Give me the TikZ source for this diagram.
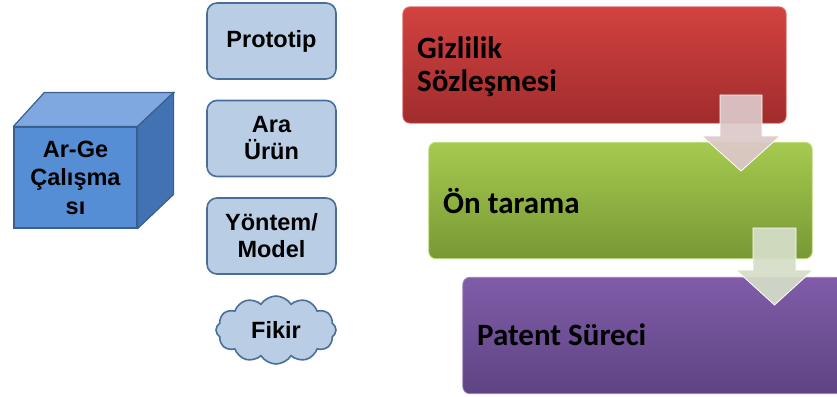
\documentclass[tikz,border=0pt]{standalone}
\usepackage{fontspec}
\setmainfont{Liberation Sans}
\newfontfamily\calib{Carlito}
\usetikzlibrary{shapes.symbols,calc}
\definecolor{cubefront}{HTML}{558ED5}
\definecolor{cubetop}{HTML}{7EA8DF}
\definecolor{cubeside}{HTML}{4272B2}
\definecolor{cubeline}{HTML}{3A5F8F}
\definecolor{boxfill}{HTML}{B9CDE5}
\definecolor{boxline}{HTML}{4A6E9A}
\definecolor{arrowa}{HTML}{DDC8C9}
\definecolor{arrowb}{HTML}{D5DEC8}
\tikzset{
  smallbox/.style={draw=boxline, line width=1.6pt, fill=boxfill, rounded corners=10pt,
    minimum width=129pt, minimum height=76pt, inner sep=0pt, align=center,
    font=\bfseries\fontsize{23.5}{27}\selectfont},
  bigbox/.style={minimum width=383pt, minimum height=116pt, inner sep=0pt},
  bigtext/.style={anchor=west, align=left, inner sep=0pt, font=\calib\bfseries\fontsize{31}{33}\selectfont},
  blockarrow/.style={draw=white, line width=0.8pt, line join=miter, fill opacity=0.93}
}
\begin{document}
\begin{tikzpicture}[x=1pt,y=-1pt]
\useasboundingbox (0,0) rectangle (837,396);
% cube
\node[draw=cubeline, line width=1.2pt, fill=cubefront, minimum width=123pt, minimum height=101pt, inner sep=0pt,
  align=center, font=\bfseries\fontsize{23.5}{28.5}\selectfont] (cube) at (75.5,177.5) {Ar-Ge\\Çalışma\\sı};
\draw[cubeline, line width=1.2pt, fill=cubetop, line join=round]
  (cube.north west) -- ++(31,-34) -- ++(130,0) -- (cube.north east) -- cycle;
\draw[cubeline, line width=1.2pt, fill=cubeside, line join=round]
  (cube.north east) -- ++(36,-34) -- ++(0,102) -- (cube.south east) -- cycle;
% small boxes
\node[smallbox] (proto) at (271.5,41) {Prototip};
\node[smallbox] (ara) at (271.5,138.5) {Ara\\Ürün};
\node[smallbox] (yontem) at (271.5,236) {Yöntem/\\Model};
\node[cloud, cloud puffs=12, cloud puff arc=115, aspect=1.9, draw=boxline, line width=1.6pt, fill=boxfill,
  minimum width=120pt, minimum height=68pt, inner sep=0pt, font=\bfseries\fontsize{23.5}{27}\selectfont] (fikir) at (276,330) {Fikir};
% big boxes
\node[bigbox] (giz) at (594.5,65) {};
\shade[rounded corners=7pt, top color={rgb,255:red,210;green,66;blue,64}, bottom color={rgb,255:red,160;green,44;blue,44}, draw={rgb,255:red,225;green,120;blue,118}, line width=0.8pt]
  (giz.north west) rectangle (giz.south east);
\node[bigbox] (on) at (620.5,200.5) {};
\shade[rounded corners=7pt, top color={rgb,255:red,166;green,202;blue,80}, bottom color={rgb,255:red,120;green,152;blue,52}, draw={rgb,255:red,190;green,220;blue,120}, line width=0.8pt]
  (on.north west) rectangle (on.south east);
\node[bigbox, minimum width=380pt] (pat) at (653,335.5) {};
\shade[rounded corners=7pt, top color={rgb,255:red,128;green,92;blue,168}, bottom color={rgb,255:red,94;green,68;blue,132}, draw={rgb,255:red,160;green,130;blue,195}, line width=0.8pt]
  (pat.north west) rectangle (pat.south east);
\node[bigtext] (gizt) at (417,67) {Gizlilik\\Sözleşmesi};
\node[bigtext] (ont) at (443,201) {Ön tarama};
\node[bigtext] (patt) at (477,335) {Patent Süreci};
% block arrows
\filldraw[blockarrow, fill=arrowa] (720,95) -- (762,95) -- (762,136) -- (780,136) -- (741,171) -- (702,136) -- (720,136) -- cycle;
\filldraw[blockarrow, fill=arrowb] (753,228) -- (796,228) -- (796,270) -- (813,270) -- (774.5,305) -- (736,270) -- (753,270) -- cycle;
\end{tikzpicture}
\end{document}
